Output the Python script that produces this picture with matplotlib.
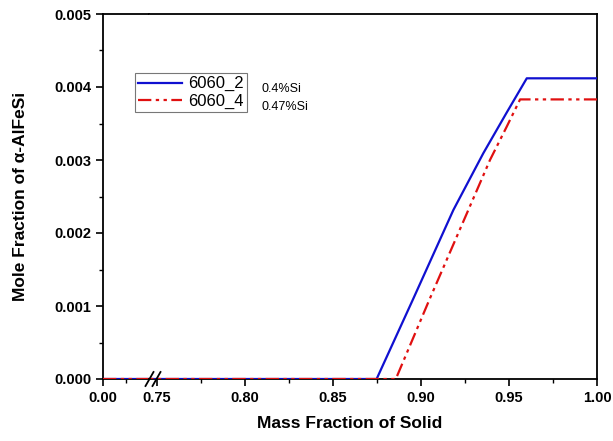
import numpy as np
import matplotlib
matplotlib.use("Agg")
import matplotlib.pyplot as plt
from matplotlib.ticker import MultipleLocator, FixedLocator

plt.rcParams['font.family'] = ['Liberation Sans', 'DejaVu Sans']

# data
x_a = [0.0, 0.8748, 0.8953, 0.9184, 0.9354, 0.9487, 0.9601, 1.0]
y_a = [0.0, 0.0, 0.001082, 0.002315, 0.003092, 0.003650, 0.004119, 0.004119]
x_b = [0.0, 0.8857, 0.9047, 0.9269, 0.9392, 0.9487, 0.9563, 1.0]
y_b = [0.0, 0.0, 0.001082, 0.002315, 0.003000, 0.003456, 0.003830, 0.003830]
names = ["6060_2", "6060_4"]
notes = ["0.4%Si", "0.47%Si"]

W, H = 613, 441
fig = plt.figure(figsize=(W / 100, H / 100), dpi=100)
x0, xb, x1 = 103, 149, 597
yb, yt = 379, 14
axl = fig.add_axes([x0 / W, 1 - yb / H, (xb - x0) / W, (yb - yt) / H])
axr = fig.add_axes([xb / W, 1 - yb / H, (x1 - xb) / W, (yb - yt) / H], sharey=axl)

for ax in (axl, axr):
    l1, = ax.plot(x_a, y_a, color="#1010d0", lw=1.6, zorder=3)
    l2, = ax.plot(x_b, y_b, color="#e01010", lw=1.6, dashes=(6, 2, 1.5, 2, 1.5, 2), zorder=4)
    for s in ax.spines.values():
        s.set_linewidth(1.3)
    ax.tick_params(which="major", direction="out", length=5, width=1.2, labelsize=10.5)
    ax.tick_params(which="minor", direction="out", length=3, width=1.0)

axl.set_xlim(0, 0.05)
axl.set_ylim(0, 0.005)
axl.spines["right"].set_visible(False)
axl.xaxis.set_major_locator(FixedLocator([0.0]))
axl.xaxis.set_minor_locator(FixedLocator([0.025]))
axl.yaxis.set_major_locator(MultipleLocator(0.001))
axl.yaxis.set_minor_locator(MultipleLocator(0.0005))
axl.xaxis.set_major_formatter(lambda v, p: "%.2f" % v)
axl.yaxis.set_major_formatter(lambda v, p: "%.3f" % v)

axr.set_xlim(0.7455, 1.0)
axr.spines["left"].set_visible(False)
axr.tick_params(axis="y", which="both", left=False, labelleft=False)
axr.xaxis.set_major_locator(FixedLocator([0.75, 0.80, 0.85, 0.90, 0.95, 1.00]))
axr.xaxis.set_minor_locator(FixedLocator([0.775, 0.825, 0.875, 0.925, 0.975]))
axr.xaxis.set_major_formatter(lambda v, p: "%.2f" % v)

for ax in (axl, axr):
    for lab in ax.get_xticklabels() + ax.get_yticklabels():
        lab.set_fontweight("bold")

# axis break marks
for dx in (-3.5, 3.5):
    fig.add_artist(plt.Line2D([(153 + dx - 4) / W, (153 + dx + 4) / W],
                              [1 - (yb + 7) / H, 1 - (yb - 7) / H],
                              color="black", lw=1.3))

fig.text((x0 + x1) / 2 / W, 1 - 424 / H, "Mass Fraction of Solid", ha="center", va="center",
         fontsize=12.5, fontweight="bold")
fig.text(21 / W, 1 - 196 / H, "Mole Fraction of α-AlFeSi", ha="center", va="center",
         rotation=90, fontsize=12.5, fontweight="bold")

leg = axr.legend([l1, l2], names, loc="upper left", bbox_to_anchor=((135 - xb) / (x1 - xb), (yb - 73) / (yb - yt)),
                 fontsize=12, frameon=True, fancybox=False, edgecolor="#555555",
                 handlelength=2.6, handletextpad=0.4, borderpad=0.2, labelspacing=0.15, borderaxespad=0)
leg.get_frame().set_linewidth(0.8)
fig.text(262 / W, 1 - 89 / H, notes[0], fontsize=9, va="center")
fig.text(262 / W, 1 - 107 / H, notes[1], fontsize=9, va="center")

fig.savefig("out.png", dpi=100)
